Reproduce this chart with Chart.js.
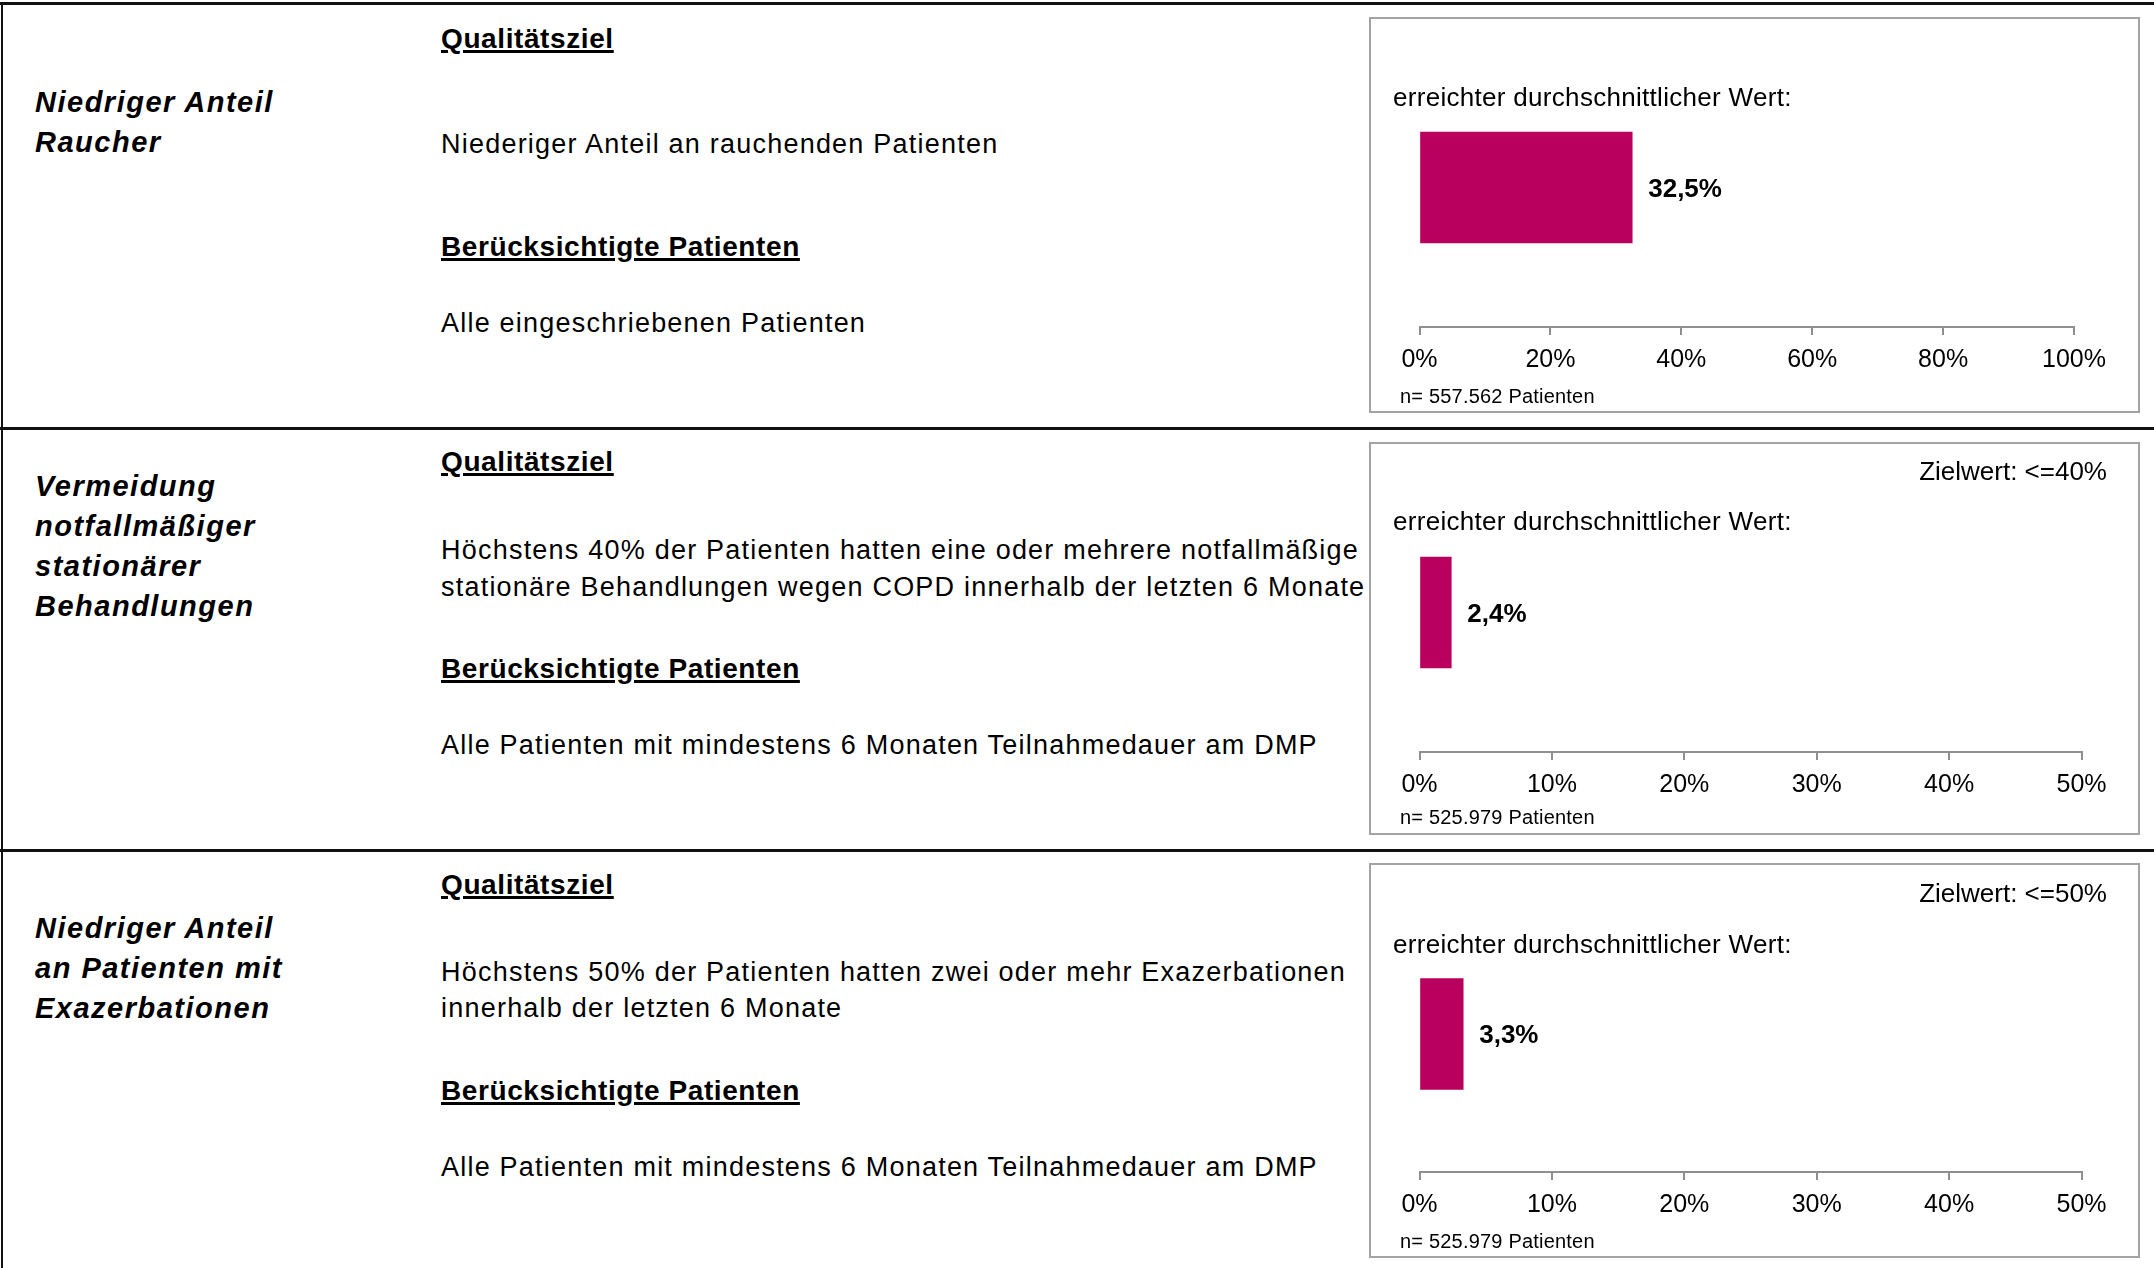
<!DOCTYPE html>
<html><head><meta charset="utf-8">
<script src="https://cdn.jsdelivr.net/npm/chart.js@4.4.1/dist/chart.umd.min.js"></script>
<style>
html,body{margin:0;padding:0;background:#fff;}
body{width:2154px;height:1268px;position:relative;overflow:hidden;font-family:'Liberation Sans',Arial,sans-serif;color:#000;}
.t{position:absolute;white-space:nowrap;line-height:1;}
.hl{position:absolute;background:#111;}
.box{position:absolute;box-sizing:border-box;border:2px solid #a3a3a3;pointer-events:none;}
canvas{position:absolute;}
</style></head><body>
<div class="hl" style="left:0;top:2px;width:2154px;height:3px"></div>
<div class="hl" style="left:1px;top:2px;width:2px;height:1268px"></div>
<div class="hl" style="left:0;top:427px;width:2154px;height:3px"></div>
<div class="hl" style="left:0;top:849px;width:2154px;height:3px"></div>
<script>
// ---- data ----
const categories = ['Niedriger Anteil Raucher', 'Vermeidung notfallmäßiger stationärer Behandlungen', 'Niedriger Anteil an Patienten mit Exazerbationen'];
const achievedValues = [32.5, 2.4, 3.3];
const targetLabels = ['', 'Zielwert: <=40%', 'Zielwert: <=50%'];
const patientCounts = ['557.562', '525.979', '525.979'];
const axisMax = [100, 50, 50];
const tickValues1 = [0, 20, 40, 60, 80, 100];
const tickValues2 = [0, 10, 20, 30, 40, 50];
const tickValues3 = [0, 10, 20, 30, 40, 50];
const tickSets = [tickValues1, tickValues2, tickValues3];
const titleLines = [['Niedriger Anteil', 'Raucher'], ['Vermeidung', 'notfallmäßiger', 'stationärer', 'Behandlungen'], ['Niedriger Anteil', 'an Patienten mit', 'Exazerbationen']];
const goalLines = [['Niederiger Anteil an rauchenden Patienten'], ['Höchstens 40% der Patienten hatten eine oder mehrere notfallmäßige', 'stationäre Behandlungen wegen COPD innerhalb der letzten 6 Monate'], ['Höchstens 50% der Patienten hatten zwei oder mehr Exazerbationen', 'innerhalb der letzten 6 Monate']];
const patientGroups = ['Alle eingeschriebenen Patienten', 'Alle Patienten mit mindestens 6 Monaten Teilnahmedauer am DMP', 'Alle Patienten mit mindestens 6 Monaten Teilnahmedauer am DMP'];

// ---- layout (positions / styles) ----
const FONT = "'Liberation Sans', Arial, sans-serif";
const BAR_COLOR = '#B9005F';
const rowLayout = [
  {title:[113,153], q:49, goal:[154], b:257, p:333},
  {title:[497,537,577,617], q:472, goal:[560,597], b:679, p:755},
  {title:[939,979,1019], q:895, goal:[982,1018], b:1101, p:1177}
];
const panels = [
  {x:1369, y:17, w:771, h:396, pad:{left:50.5, right:66, top:31, bottom:36}, ziel:0, erreicht:106, n:403},
  {x:1369, y:442, w:771, h:393, pad:{left:50.5, right:58.5, top:31, bottom:33}, ziel:480, erreicht:530, n:824},
  {x:1369, y:863, w:771, h:395, pad:{left:50.5, right:58.5, top:33, bottom:36}, ziel:902, erreicht:953, n:1248}
];

function txt(str, x, baseline, size, style) {
  const d = document.createElement('div');
  d.className = 't';
  d.textContent = str;
  d.style.fontSize = size + 'px';
  d.style.top = (baseline - 0.8465 * size) + 'px';
  d.style.left = x + 'px';
  Object.assign(d.style, style || {});
  document.body.appendChild(d);
  return d;
}

const underline = {fontWeight:'bold', letterSpacing:'0.6px', textDecoration:'underline', textDecorationThickness:'3px', textUnderlineOffset:'2px'};

categories.forEach((c, i) => {
  const L = rowLayout[i];
  titleLines[i].forEach((ln, k) => txt(ln, 35, L.title[k], 29, {fontWeight:'bold', fontStyle:'italic', letterSpacing:'1.5px'}));
  txt('Qualitätsziel', 441, L.q, 28, underline);
  goalLines[i].forEach((ln, k) => txt(ln, 441, L.goal[k], 27, {letterSpacing:'1.22px'}));
  txt('Berücksichtigte Patienten', 441, L.b, 28, underline);
  txt(patientGroups[i], 441, L.p, 27, {letterSpacing:'1.22px'});

  const P = panels[i];
  const cv = document.createElement('canvas');
  cv.width = P.w; cv.height = P.h;
  cv.style.left = P.x + 'px'; cv.style.top = P.y + 'px';
  document.body.appendChild(cv);
  const bx = document.createElement('div');
  bx.className = 'box';
  Object.assign(bx.style, {left:P.x+'px', top:P.y+'px', width:P.w+'px', height:P.h+'px'});
  document.body.appendChild(bx);

  txt('erreichter durchschnittlicher Wert:', 1393, P.erreicht, 26, {letterSpacing:'0.3px'});
  if (targetLabels[i]) {
    const z = txt(targetLabels[i], 0, P.ziel, 26, {});
    z.style.left = '';
    z.style.right = (2154 - 2107) + 'px';
  }
  txt('n= ' + patientCounts[i] + ' Patienten', 1400, P.n, 20, {letterSpacing:'0.2px'});

  const ticks = tickSets[i];
  const valueLabel = {
    id: 'valueLabel',
    afterDatasetsDraw(chart) {
      const ctx = chart.ctx;
      const ds = chart.data.datasets[0];
      chart.getDatasetMeta(0).data.forEach((bar, j) => {
        ctx.save();
        ctx.font = 'bold 26px ' + FONT;
        ctx.fillStyle = '#000';
        ctx.textAlign = 'left';
        ctx.textBaseline = 'middle';
        ctx.fillText(ds.data[j].toFixed(1).replace('.', ',') + '%', bar.x + 16, bar.y + 2);
        ctx.restore();
      });
    }
  };

  new Chart(cv, {
    type: 'bar',
    data: {labels: [c], datasets: [{data: [achievedValues[i]], backgroundColor: BAR_COLOR, borderWidth: 0, barThickness: 111}]},
    options: {
      indexAxis: 'y', responsive: false, animation: false, devicePixelRatio: 1,
      layout: {padding: P.pad},
      plugins: {legend: {display: false}, tooltip: {enabled: false}, title: {display: false}},
      scales: {
        x: {
          min: 0, max: axisMax[i],
          afterBuildTicks: s => { s.ticks = ticks.map(v => ({value: v})); },
          afterFit: s => { s.height = 50; },
          ticks: {callback: v => v + '%', color: '#000', font: {family: FONT, size: 25}, padding: 10, maxRotation: 0, autoSkip: false},
          grid: {drawOnChartArea: false, drawTicks: true, tickLength: 8, color: '#8f8f8f', lineWidth: 2},
          border: {display: true, color: '#8f8f8f', width: 2}
        },
        y: {display: false}
      }
    },
    plugins: [valueLabel]
  });
});
</script>
</body></html>
